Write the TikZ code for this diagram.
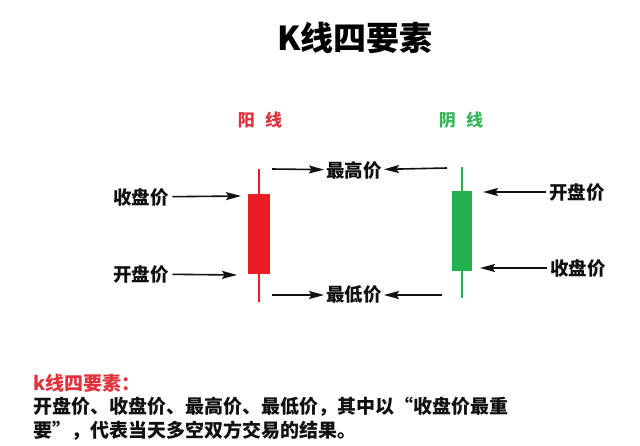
\documentclass[tikz,border=0pt]{standalone}
\usepackage{fontspec}
\setmainfont{Noto Sans CJK SC}
\usetikzlibrary{arrows.meta,positioning}
\definecolor{UP}{HTML}{EC1C24}
\definecolor{DOWN}{HTML}{22B14C}
\definecolor{UPTXT}{HTML}{E0323C}
\definecolor{DOWNTXT}{HTML}{35B45A}
\definecolor{INK}{HTML}{111111}

\begin{document}
\begin{tikzpicture}[
    x=1pt, y=-1pt,
    lbl/.style={font=\fontsize{18.5}{20}\selectfont\bfseries, text=INK, inner sep=3.5pt},
    mid/.style={lbl, inner sep=2pt},
    head/.style={font=\fontsize{17}{20}\selectfont\bfseries, inner sep=0pt},
    arr/.style={-{Stealth[length=15pt,width=8pt,inset=2.5pt]}, line width=1.6pt, draw=INK},
    wick/.style={line width=2pt},
    note/.style={font=\fontsize{19}{24}\selectfont\bfseries, anchor=west, inner sep=0pt},
  ]
  \useasboundingbox (0,0) rectangle (640,445);

  % title
  \node[font=\fontsize{33}{36}\selectfont\bfseries, inner sep=0pt] (title) at (355,38) {K线四要素};

  % red candle
  \node[head, text=UPTXT] (yang) at (260,120) {阳\hspace{0.6em}线};
  \draw[wick, UP] (259,169) coordinate (rtop) -- (259,302) coordinate (rbot);
  \fill[UP] (248,194) rectangle (270,274);
  \coordinate (rclosetip) at (241,196);
  \coordinate (ropentip) at (237,275);
  \coordinate (rhitail) at (272,169);
  \coordinate (rlotail) at (272,295);

  % green candle
  \node[head, text=DOWNTXT] (yin) at (461,120) {阴\hspace{0.6em}线};
  \draw[wick, DOWN] (462,167) coordinate (gtop) -- (462,298) coordinate (gbot);
  \fill[DOWN] (452,191) rectangle (472,271);
  \coordinate (gopentip) at (483,192);
  \coordinate (gclosetip) at (480,268);
  \coordinate (ghitail) at (447,168);
  \coordinate (glotail) at (442,295);

  % price labels
  \node[lbl] (lclose) at (141,197) {收盘价};
  \node[lbl] (lopen) at (141,274) {开盘价};
  \node[mid] (high) at (354,170) {最高价};
  \node[mid] (low) at (354,295) {最低价};
  \node[lbl] (ropen) at (577,192) {开盘价};
  \node[lbl] (rclose) at (578,268) {收盘价};

  % arrows
  \draw[arr] (lclose) -- (rclosetip);
  \draw[arr] (lopen) -- (ropentip);
  \draw[arr] (rhitail) -- (high);
  \draw[arr] (ghitail) -- (high);
  \draw[arr] (rlotail) -- (low);
  \draw[arr] (glotail) -- (low);
  \draw[arr] (ropen) -- (gopentip);
  \draw[arr] (rclose) -- (gclosetip);

  % bottom explanation
  \node[note, text=UPTXT] (key) at (33,383) {k线四要素：};
  \node[note, text=INK] (line1) at (33,407) {开盘价、收盘价、最高价、最低价，其中以“收盘价最重};
  \node[note, text=INK] (line2) at (33,431) {要”，代表当天多空双方交易的结果。};

\end{tikzpicture}
\end{document}
